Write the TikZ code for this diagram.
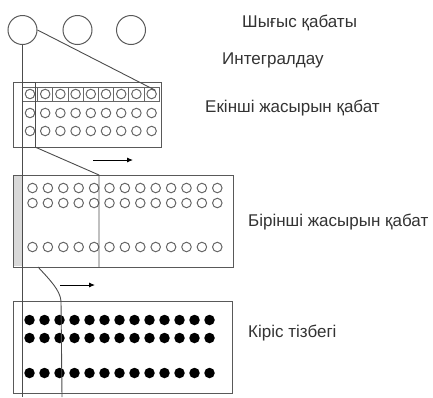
\documentclass[tikz,border=0pt]{standalone}
\usepackage{fontspec}
\setmainfont{Liberation Sans}
\usepackage{tikz}
\usetikzlibrary{arrows.meta,positioning}

\begin{document}
\begin{tikzpicture}[x=1pt, y=-1pt, font=\fontsize{17}{19}\selectfont,
  frame/.style={draw=black!65, line width=1.1pt},
  link/.style={draw=black!70, line width=0.9pt},
  unit/.style={circle, draw=black!60, line width=1pt, minimum size=9.5pt, inner sep=0pt},
  spike/.style={circle, fill=black, minimum size=10.5pt, inner sep=0pt},
  lbl/.style={anchor=west, text=black!80, inner sep=0pt}]
\useasboundingbox (0,0) rectangle (433,397);
% output layer
\foreach \i/\x in {1/22.5, 2/77.5, 3/131}
  \node[circle, draw=black!65, line width=1pt, minimum size=29pt, inner sep=0pt] (o\i) at (\x,30) {};
% layer boxes
\node[frame, minimum width=148pt, minimum height=65pt, anchor=north west] (hidTwo) at (13,82) {};
\fill[black!15] (13.6,175.6) rectangle (22.5,266.4);
\node[frame, minimum width=220pt, minimum height=92pt, anchor=north west] (hidOne) at (13,175) {};
\node[frame, minimum width=219pt, minimum height=92pt, anchor=north west] (inRow) at (13,301) {};
% second hidden layer
\foreach \i in {1,...,9} {
  \draw[link, draw=black!60] (22.4+15.2*\i-15.2,87) rectangle ++(15.2,14);
  \node[unit] (c\i) at (30+15.2*\i-15.2,94) {};
  \node[unit] at (30+15.2*\i-15.2,113) {};
  \node[unit] at (30+15.2*\i-15.2,131) {};
}
% first hidden layer
\foreach \i in {0,...,12}
  \foreach \y in {188,203,247}
    \node[unit] at (32.5+15.4*\i,\y) {};
% input sequence
\foreach \i in {0,...,12}
  \foreach \y in {320,338,373}
    \node[spike] at (29.5+15*\i,\y) {};
% receptive field
\coordinate (bot) at (22.5,397);
\draw[link] (o1.south) -- (bot);
\draw[link] (o1.east) -- (c9.north east);
\draw[link] (22.5,82) rectangle (35,147);
\draw[link] (35,147) -- (99,175) -- (99,267);
\draw[link] (38,267) .. controls (50,280) and (60,290) .. (61,301) -- (62,397);
% shift arrows
\draw[link, draw=black, -{Latex[length=6pt,width=5pt]}] (93,160) -- (133,160);
\draw[link, draw=black, -{Latex[length=6pt,width=5pt]}] (60,285) -- (95,285);
% labels
\node[lbl] at (242,23) {Шығыс қабаты};
\node[lbl] at (222,60) {Интегралдау};
\node[lbl] at (205,108) {Екінші жасырын қабат};
\node[lbl] at (248,222) {Бірінші жасырын қабат};
\node[lbl] at (248,333) {Кіріс тізбегі};
\end{tikzpicture}
\end{document}
